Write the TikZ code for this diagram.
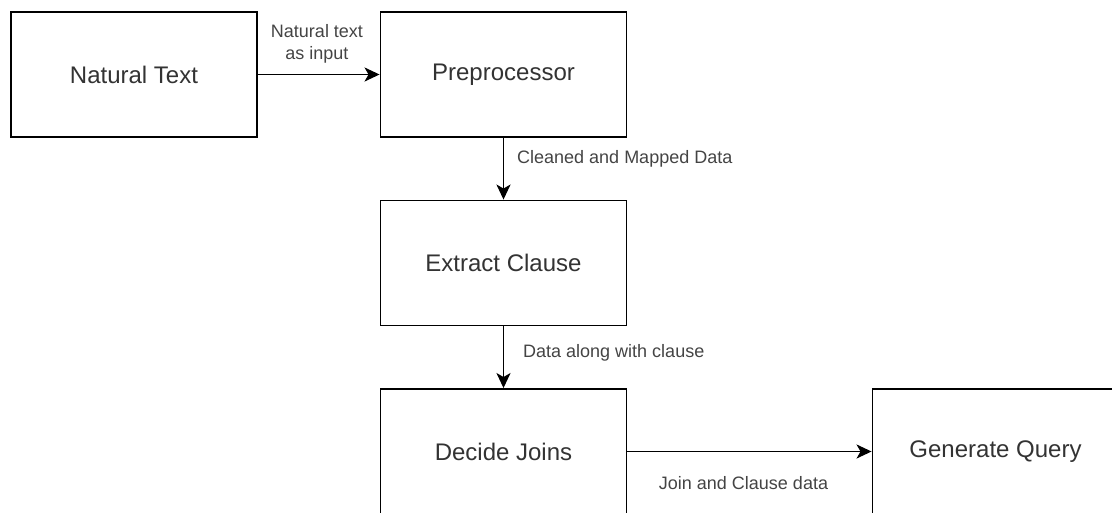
\documentclass[tikz,border=0pt]{standalone}
\usepackage{fontspec}
\setmainfont{Liberation Sans}
\usetikzlibrary{arrows.meta}
\definecolor{txt}{HTML}{333333}
\definecolor{lbl}{HTML}{444444}
\tikzset{
  stepbox/.style={draw=black, line width=1.9pt, fill=white, rectangle,
    minimum width=246pt, minimum height=125pt, inner sep=0pt,
    font=\fontsize{24}{28}\selectfont, text=txt},
  flow/.style={draw=black, line width=1.9pt,
    -{Stealth[length=15pt,width=14pt,inset=4pt]}},
  edgelabel/.style={font=\fontsize{18}{21}\selectfont, text=lbl, inner sep=0pt}
}
\begin{document}
\begin{tikzpicture}[x=1pt,y=-1pt]
  \useasboundingbox (0,0) rectangle (1112,512);

  % processing stages
  \node[stepbox] (nt) at (134,74.5) {Natural Text};
  \node[stepbox] (pp) at (503.5,74.5) {Preprocessor};
  \node[stepbox] (ec) at (503.5,263) {Extract Clause};
  \node[stepbox] (dj) at (503.5,451.5) {Decide Joins};
  \node[stepbox] (gq) at (995.5,451.5) {Generate Query};

  % data flow between stages
  \draw[flow] (nt.east) -- (pp.west);
  \draw[flow] (pp.south) -- (ec.north);
  \draw[flow] (ec.south) -- (dj.north);
  \draw[flow] (dj.east) -- (gq.west);

  % edge labels
  \node[edgelabel, align=center] (l1) at (317,44) {Natural text\\[1pt]as input};
  \node[edgelabel, anchor=west] (l2) at (517,159) {Cleaned and Mapped Data};
  \node[edgelabel, anchor=west] (l3) at (523,353) {Data along with clause};
  \node[edgelabel] (l4) at (743.5,483) {Join and Clause data};
\end{tikzpicture}
\end{document}
